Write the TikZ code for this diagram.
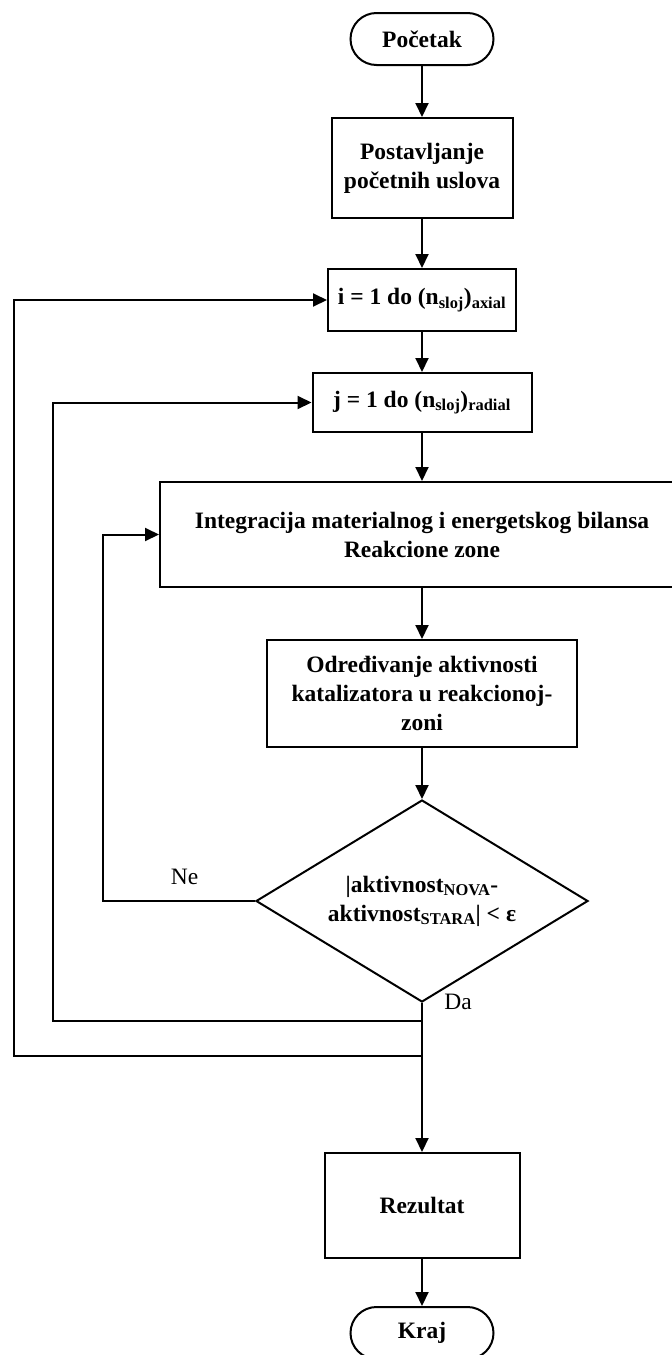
\documentclass[tikz,border=0pt]{standalone}
\usepackage{fontspec}
\setmainfont{Liberation Serif}
\usetikzlibrary{arrows.meta,shapes.geometric}

\tikzset{
  base/.style={draw=black, line width=2pt, inner sep=0pt, align=center,
    font=\fontsize{23.5}{29}\selectfont\bfseries},
  stepbox/.style={base, rectangle},
  terminal/.style={base, rectangle, rounded corners=26pt,
    minimum width=143pt, minimum height=52pt},
  decision/.style={base, diamond, aspect=1.64},
  flow/.style={draw=black, line width=2pt,
    -{Triangle[length=14pt,width=13pt]}},
  lbl/.style={font=\fontsize{23.5}{29}\selectfont, inner sep=0pt}
}

\begin{document}
\begin{tikzpicture}[x=1pt,y=-1pt]
\useasboundingbox (0,0) rectangle (672,1355);

% process chain along the main axis
\node[terminal] (start) at (422,39) {Početak};
\node[stepbox, minimum width=181pt, minimum height=100pt] (b1) at (422,168)
  {Postavljanje\\početnih uslova};
\node[stepbox, minimum width=188pt, minimum height=62pt] (b2) at (422,300)
  {i = 1 do (n\textsubscript{sloj})\textsubscript{axial}};
\node[stepbox, minimum width=219pt, minimum height=59pt] (b3) at (422,402.5)
  {j = 1 do (n\textsubscript{sloj})\textsubscript{radial}};
\node[stepbox, minimum width=524pt, minimum height=105pt] (b4) at (422,534.5)
  {Integracija materialnog i energetskog bilansa\\Reakcione zone};
\node[stepbox, minimum width=310pt, minimum height=107pt] (b5) at (422,693.5)
  {Određivanje aktivnosti\\katalizatora u reakcionoj-\\zoni};
\node[decision, minimum width=332pt, minimum height=202pt] (dec) at (422,901)
  {|aktivnost\textsubscript{NOVA}-\\aktivnost\textsubscript{STARA}| < ε};
\node[stepbox, minimum width=195pt, minimum height=105pt] (res) at (422,1205.5)
  {Rezultat};
\node[terminal] (kraj) at (422,1333) {Kraj};

% branch labels
\node[lbl] (ne) at (184.5,877) {Ne};
\node[lbl] (da) at (458,1002) {Da};

% loop corners and junctions
\coordinate (neL) at (103,901);
\coordinate (j1) at (422,1021);
\coordinate (j1L) at (53,1021);
\coordinate (j2) at (422,1056);
\coordinate (j2L) at (14,1056);

% straight flow
\draw[flow] (start) -- (b1);
\draw[flow] (b1) -- (b2);
\draw[flow] (b2) -- (b3);
\draw[flow] (b3) -- (b4);
\draw[flow] (b4) -- (b5);
\draw[flow] (b5) -- (dec);
\draw[flow] (dec.south) -- (res);
\draw[flow] (res) -- (kraj);

% feedback loops
\draw[flow] (dec.west) -- (neL) |- (b4.west);
\draw[flow] (j1) -- (j1L) |- (b3.west);
\draw[flow] (j2) -- (j2L) |- (b2.west);
\end{tikzpicture}
\end{document}
